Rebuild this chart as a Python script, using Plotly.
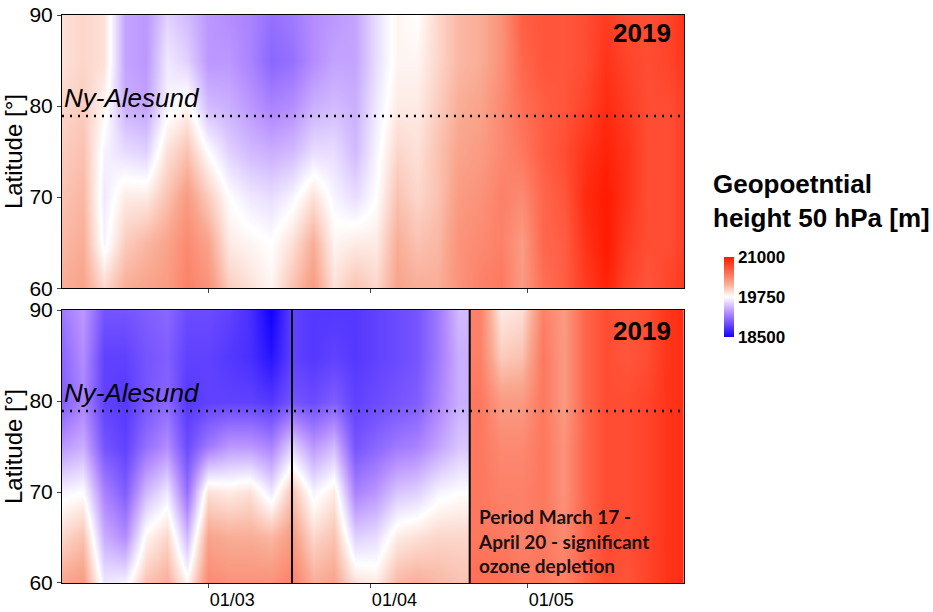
import numpy as np
import plotly.graph_objects as go

# ---------------- data ----------------
latitudes = [60, 65, 70, 75, 80, 85, 90]

dates = ["2019-02-01", "2019-02-05", "2019-02-09", "2019-02-13", "2019-02-17", "2019-02-21",
         "2019-02-25", "2019-03-01", "2019-03-05", "2019-03-09", "2019-03-13", "2019-03-17",
         "2019-03-21", "2019-03-25", "2019-03-29", "2019-04-02", "2019-04-06", "2019-04-10",
         "2019-04-14", "2019-04-18", "2019-04-22", "2019-04-26", "2019-04-30", "2019-05-04",
         "2019-05-08", "2019-05-12", "2019-05-16", "2019-05-20", "2019-05-24", "2019-05-28",
         "2019-06-01"]

# geopotential height [m] per date column, latitudes 60..90
top_columns = [
    [20150, 20100, 20050, 20000, 19950, 19900, 19900],
    [20200, 20150, 20100, 20050, 20000, 19950, 19950],
    [19950, 19700, 19650, 19700, 19800, 19900, 19900],
    [20150, 20000, 19850, 19600, 19400, 19350, 19350],
    [20200, 20100, 19850, 19550, 19350, 19300, 19300],
    [20250, 20200, 20050, 19900, 19700, 19650, 19550],
    [20400, 20350, 20250, 20050, 19800, 19550, 19450],
    [20300, 20200, 20000, 19750, 19450, 19300, 19300],
    [20000, 19850, 19750, 19550, 19400, 19300, 19250],
    [19900, 19800, 19650, 19450, 19300, 19200, 19200],
    [19800, 19750, 19600, 19400, 19200, 19050, 19100],
    [20050, 19900, 19700, 19450, 19250, 19100, 19150],
    [20250, 20150, 19900, 19600, 19400, 19250, 19250],
    [19900, 19800, 19700, 19600, 19450, 19350, 19300],
    [20050, 19850, 19600, 19450, 19400, 19350, 19350],
    [19950, 19850, 19750, 19700, 19650, 19600, 19600],
    [20200, 20150, 20050, 19950, 19850, 19800, 19800],
    [20150, 20050, 19950, 19900, 19850, 19800, 19750],
    [20150, 20100, 20050, 20050, 20000, 19950, 19950],
    [20300, 20300, 20250, 20200, 20150, 20100, 20100],
    [20400, 20350, 20300, 20250, 20200, 20150, 20150],
    [20450, 20400, 20400, 20350, 20350, 20300, 20300],
    [20250, 20250, 20350, 20450, 20500, 20550, 20600],
    [20500, 20550, 20550, 20600, 20600, 20650, 20650],
    [20600, 20600, 20650, 20700, 20650, 20650, 20650],
    [20800, 20850, 20900, 20850, 20750, 20700, 20700],
    [20950, 21000, 21000, 20950, 20900, 20850, 20800],
    [20750, 20800, 20850, 20850, 20800, 20750, 20700],
    [20650, 20700, 20700, 20700, 20700, 20700, 20700],
    [20750, 20700, 20700, 20700, 20700, 20750, 20750],
    [20850, 20800, 20800, 20800, 20800, 20850, 20900],
]

bottom_columns_early = [
    [20200, 19950, 19700, 19300, 19000, 19050, 19150],
    [20250, 20050, 19750, 19400, 19200, 19250, 19300],
    [19650, 19400, 19200, 18950, 18850, 18850, 18950],
    [19700, 19250, 19000, 18850, 18800, 18850, 18950],
    [20050, 19800, 19450, 19100, 18950, 18950, 19000],
    [20150, 19950, 19650, 19250, 19050, 19000, 19050],
    [19800, 19450, 19100, 18900, 18800, 18850, 18900],
    [20350, 20200, 19900, 19150, 18850, 18850, 18900],
    [20300, 20150, 19850, 19300, 18850, 18800, 18850],
    [20300, 20150, 19900, 19300, 18850, 18750, 18750],
    [20300, 20100, 19650, 19200, 18800, 18600, 18500],
    [20400, 20250, 20050, 19550, 18950, 18850, 18850],
    [20150, 19950, 19700, 19300, 18900, 18800, 18800],
    [20200, 20050, 19850, 19450, 19000, 18850, 18800],
    [19900, 19550, 19200, 18950, 18850, 18800, 18800],
    [19850, 19600, 19300, 19050, 18900, 18850, 18850],
    [20100, 19850, 19500, 19150, 18950, 18900, 18900],
    [20150, 19900, 19550, 19200, 19000, 18950, 18950],
    [20100, 19950, 19700, 19350, 19200, 19150, 19150],
    [20050, 19950, 19750, 19500, 19400, 19400, 19450],
]

bottom_columns_late = [
    [20500, 20450, 20450, 20450, 20450, 20400, 20400],
    [20500, 20450, 20400, 20350, 20250, 20000, 19850],
    [20450, 20400, 20400, 20350, 20250, 20050, 19900],
    [20450, 20450, 20450, 20450, 20450, 20450, 20400],
    [20400, 20350, 20300, 20300, 20250, 20250, 20250],
    [20550, 20550, 20550, 20550, 20550, 20550, 20550],
    [20700, 20700, 20700, 20700, 20700, 20700, 20700],
    [20650, 20700, 20700, 20700, 20700, 20650, 20650],
    [20750, 20750, 20750, 20750, 20750, 20700, 20700],
    [20850, 20850, 20850, 20850, 20850, 20850, 20850],
    [20900, 20900, 20900, 20900, 20900, 20900, 20900],
]

n_early = len(bottom_columns_early)
ny_alesund_lat = 78.9
period_start = "2019-03-17"
period_end = "2019-04-20"
x_range = ["2019-02-01", "2019-05-31"]
x_tickvals = ["2019-03-01", "2019-04-01", "2019-05-01"]
x_ticktext = ["01/03", "01/04", "01/05"]
cbar_ticks = [18500, 19750, 21000]
cbar_ticktext = ["18500", "19750", "21000"]

# ---------------- figure ----------------
FONT = "Liberation Sans, Arial, sans-serif"
colorscale = [
    [0.0, "#1000ff"],
    [0.15, "#6646ff"],
    [0.3, "#b48cff"],
    [0.5, "#ffffff"],
    [0.67, "#f9a890"],
    [0.83, "#ff6248"],
    [1.0, "#ff1a00"],
]

fig = go.Figure()
fig.add_trace(go.Heatmap(x=dates, y=latitudes, z=np.array(top_columns).T,
                         coloraxis="coloraxis", zsmooth="best", xaxis="x", yaxis="y",
                         hoverinfo="skip"))
fig.add_trace(go.Heatmap(x=dates[:n_early], y=latitudes, z=np.array(bottom_columns_early).T,
                         coloraxis="coloraxis", zsmooth="best", xaxis="x2", yaxis="y2",
                         hoverinfo="skip"))
fig.add_trace(go.Heatmap(x=dates[n_early:], y=latitudes, z=np.array(bottom_columns_late).T,
                         coloraxis="coloraxis", zsmooth="best", xaxis="x2", yaxis="y2",
                         hoverinfo="skip"))

axis_common = dict(showline=True, linecolor="black", linewidth=1, mirror=True,
                   ticks="outside", ticklen=4, tickcolor="#444", showgrid=False,
                   zeroline=False, automargin=False)

ytitle = dict(text="Latitude [°]", font=dict(size=24, family=FONT), standoff=3)

fig.update_layout(
    width=933, height=612,
    margin=dict(l=62, r=249, t=15, b=29, autoexpand=False),
    paper_bgcolor="white", plot_bgcolor="white",
    font=dict(family=FONT, color="black"),
    xaxis=dict(domain=[0, 1], anchor="y", type="date", range=x_range,
               tickvals=x_tickvals, ticktext=x_ticktext, showticklabels=False, **axis_common),
    xaxis2=dict(domain=[0, 1], anchor="y2", type="date", range=x_range,
                tickvals=x_tickvals, ticktext=x_ticktext, ticklabelshift=24,
                ticklabelstandoff=-4,
                tickfont=dict(size=18, family=FONT), **axis_common),
    yaxis=dict(domain=[0.519, 1], anchor="x", range=[60, 90], tickvals=[60, 70, 80, 90],
               tickfont=dict(size=21, family=FONT), title=ytitle, **axis_common),
    yaxis2=dict(domain=[0, 0.4806], anchor="x2", range=[60, 90], tickvals=[60, 70, 80, 90],
                tickfont=dict(size=21, family=FONT), title=ytitle, **axis_common),
    coloraxis=dict(
        colorscale=colorscale, cmin=18500, cmax=21000,
        colorbar=dict(x=1.064, xanchor="left", y=0.5035, yanchor="middle",
                      thickness=10, thicknessmode="pixels", len=80, lenmode="pixels",
                      outlinewidth=0, ticks="", tickvals=cbar_ticks, ticktext=cbar_ticktext,
                      tickfont=dict(size=17, family=FONT, weight="bold"),
                      xpad=0, ypad=0),
    ),
    showlegend=False,
)

# dotted Ny-Alesund lines
for xr, yr in (("x", "y"), ("x2", "y2")):
    fig.add_shape(type="line", xref=f"{xr} domain", yref=yr, x0=0, x1=1,
                  y0=ny_alesund_lat, y1=ny_alesund_lat,
                  line=dict(color="black", width=2.5, dash="2px,6px"))
    fig.add_annotation(xref=f"{xr} domain", yref=yr, x=0.0, y=80.9, text="<i>Ny-Alesund</i>",
                       showarrow=False, xanchor="left", yanchor="middle",
                       font=dict(size=26, family=FONT, color="black"))

fig.add_annotation(xref="x domain", yref="y", x=0.982, y=88.0, text="<b>2019</b>",
                   showarrow=False, xanchor="right", yanchor="middle",
                   font=dict(size=26, family=FONT, color="black"))
fig.add_annotation(xref="x2 domain", yref="y2", x=0.982, y=87.7, text="<b>2019</b>",
                   showarrow=False, xanchor="right", yanchor="middle",
                   font=dict(size=26, family=FONT, color="black"))

# period lines
for d in (period_start, period_end):
    fig.add_shape(type="line", xref="x2", yref="y2 domain", x0=d, x1=d, y0=0, y1=1,
                  line=dict(color="black", width=2))

fig.add_annotation(xref="x2 domain", yref="y2", x=0.665, y=64.6,
                   text="<b>Period March 17 -<br>April 20 - significant<br>ozone depletion</b>",
                   showarrow=False, xanchor="left", yanchor="middle", align="left",
                   font=dict(size=19, family="Lato, Open Sans, sans-serif", color="#1a1010"))

# colorbar title
fig.add_annotation(xref="paper", yref="paper", x=1.044, y=0.673,
                   text="<b>Geopoetntial<br>height 50 hPa [m]</b>",
                   showarrow=False, xanchor="left", yanchor="middle", align="left",
                   font=dict(size=26, family=FONT, color="black"))

fig.write_html("out.html")
